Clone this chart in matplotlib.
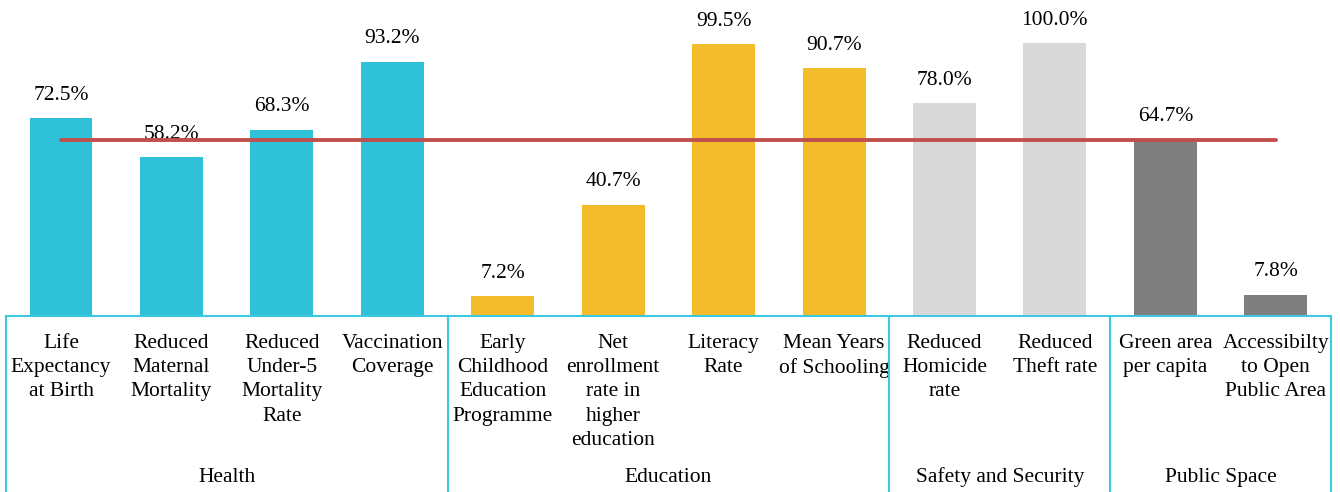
import matplotlib.pyplot as plt

plt.rcParams['font.family'] = ['Liberation Serif', 'DejaVu Serif']

labels = ['Life\nExpectancy\nat Birth', 'Reduced\nMaternal\nMortality', 'Reduced\nUnder-5\nMortality\nRate',
          'Vaccination\nCoverage', 'Early\nChildhood\nEducation\nProgramme', 'Net\nenrollment\nrate in\nhigher\neducation',
          'Literacy\nRate', 'Mean Years\nof Schooling', 'Reduced\nHomicide\nrate', 'Reduced\nTheft rate',
          'Green area\nper capita', 'Accessibilty\nto Open\nPublic Area']
values = [72.5, 58.2, 68.3, 93.2, 7.2, 40.7, 99.5, 90.7, 78.0, 100.0, 64.7, 7.8]
average = 64.5  # red line
groups = ['Health', 'Education', 'Safety and Security', 'Public Space']
group_sizes = [4, 4, 2, 2]
group_colors = ['#2EC1D8', '#F2BC2B', '#D9D9D9', '#7F7F7F']

FS = 15.5

fig = plt.figure(figsize=(13.4, 4.92), dpi=100)
ax = fig.add_axes([5.8 / 1340, 1 - 316 / 492, (1331 - 5.8) / 1340, 316 / 492])

colors = []
for c, n in zip(group_colors, group_sizes):
    colors += [c] * n
x = list(range(len(values)))
ax.bar(x, values, width=0.57, color=colors)

for xi, v in zip(x, values):
    ax.annotate(f'{v:.1f}%', (xi, v), xytext=(0, 16.5), textcoords='offset points',
                ha='center', va='center', fontsize=FS)

ax.plot([x[0], x[-1]], [average, average], color='#C0504D', lw=2.8, solid_capstyle='round', zorder=5)

ax.set_xlim(-0.5, len(values) - 0.5)
ax.set_ylim(0, 316 / 2.73)
ax.set_yticks([])
ax.set_xticks(x)
ax.set_xticklabels(labels, fontsize=FS, linespacing=1.37)
ax.tick_params(axis='x', length=0, pad=13)
for s in ['top', 'left', 'right']:
    ax.spines[s].set_visible(False)
ax.spines['bottom'].set_color('#3CC8DE')
ax.spines['bottom'].set_linewidth(1.5)

# group separators and names
start = 0
bounds = [-0.5]
for g, n in zip(groups, group_sizes):
    mid = start + (n - 1) / 2
    ax.text(mid, -161 / 316, g, transform=ax.get_xaxis_transform(), ha='center', va='center', fontsize=FS)
    start += n
    bounds.append(start - 0.5)
for b in bounds:
    ax.plot([b, b], [0, -176 / 316], transform=ax.get_xaxis_transform(), color='#3CC8DE', lw=1.5, clip_on=False)

fig.savefig('out.png', dpi=100)
